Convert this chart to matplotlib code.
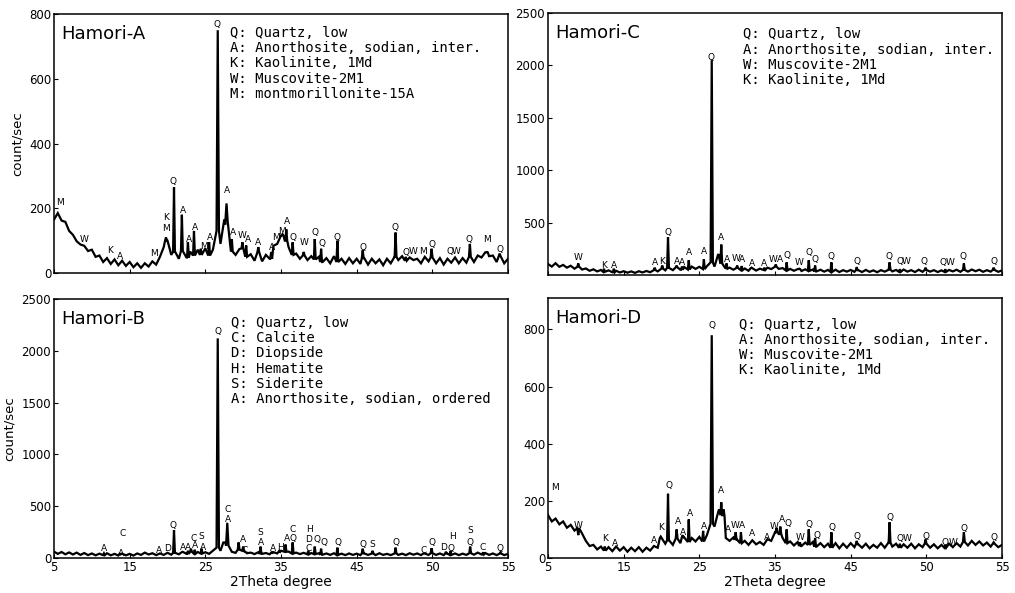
"""XRD patterns of the four Hamori samples (2x2 panel grid)."""
import matplotlib
matplotlib.use("Agg")
import matplotlib.pyplot as plt
import numpy as np

# --- data -------------------------------------------------------------------
# background counts on a 0.5 degree grid, 5 .. 65 degree 2theta
TWO_THETA = np.arange(5.0, 65.01, 0.5)

bg_a = [165, 185, 162, 158, 130, 118, 98, 88, 84, 68,
        72, 50, 54, 34, 46, 28, 42, 24, 38, 22,
        34, 18, 30, 16, 30, 20, 36, 26, 50, 80,
        100, 56, 66, 44, 68, 48, 66, 54, 72, 56,
        76, 54, 72, 130, 90, 165, 150, 66, 56, 74,
        76, 50, 58, 38, 64, 36, 56, 44, 84, 90,
        116, 100, 80, 56, 60, 44, 54, 40, 52, 42,
        50, 34, 46, 30, 52, 34, 44, 28, 46, 30,
        44, 28, 46, 26, 44, 30, 42, 24, 44, 30,
        50, 40, 52, 38, 48, 40, 44, 30, 50, 36,
        48, 30, 46, 26, 44, 32, 48, 30, 46, 32,
        50, 34, 54, 48, 64, 52, 54, 34, 52, 30,
        44]
bg_b = [62, 40, 58, 36, 54, 34, 52, 30, 48, 28,
        44, 26, 42, 28, 46, 26, 40, 24, 42, 26,
        40, 24, 44, 30, 52, 34, 46, 28, 44, 30,
        46, 32, 50, 36, 56, 40, 60, 42, 58, 44,
        56, 40, 70, 100, 70, 150, 120, 60, 50, 80,
        70, 46, 52, 38, 56, 40, 48, 36, 56, 44,
        70, 60, 62, 44, 52, 38, 50, 36, 48, 38,
        46, 32, 44, 30, 46, 30, 42, 28, 44, 30,
        42, 28, 44, 30, 42, 28, 46, 30, 40, 28,
        44, 30, 42, 28, 46, 32, 44, 28, 42, 30,
        46, 30, 44, 28, 42, 30, 44, 28, 42, 30,
        46, 32, 52, 34, 48, 30, 44, 28, 42, 28,
        40]
bg_c = [105, 80, 112, 78, 96, 70, 88, 60, 78, 52,
        62, 40, 54, 34, 48, 30, 44, 26, 40, 24,
        36, 22, 34, 20, 36, 24, 38, 26, 46, 34,
        60, 44, 68, 46, 72, 50, 76, 52, 80, 58,
        78, 56, 84, 120, 80, 170, 110, 60, 70, 50,
        66, 46, 62, 40, 64, 42, 60, 48, 70, 56,
        78, 58, 66, 44, 58, 40, 56, 38, 54, 40,
        52, 34, 50, 32, 48, 30, 50, 28, 46, 32,
        48, 30, 46, 28, 48, 30, 44, 26, 46, 32,
        50, 34, 48, 30, 52, 32, 46, 28, 50, 30,
        48, 32, 46, 28, 44, 30, 48, 34, 50, 30,
        48, 32, 52, 36, 50, 30, 46, 32, 48, 30,
        44]
bg_d = [150, 128, 138, 118, 128, 106, 116, 96, 104, 86,
        60, 42, 46, 30, 40, 26, 38, 24, 40, 26,
        38, 22, 36, 24, 38, 22, 36, 26, 42, 36,
        70, 50, 62, 46, 68, 52, 72, 56, 70, 58,
        74, 58, 80, 120, 110, 160, 150, 70, 60, 72,
        64, 52, 60, 46, 62, 48, 56, 46, 66, 60,
        90, 84, 70, 52, 58, 44, 56, 42, 54, 46,
        56, 40, 52, 38, 50, 36, 52, 34, 50, 36,
        52, 38, 48, 36, 50, 34, 46, 36, 52, 36,
        54, 40, 50, 36, 48, 36, 50, 34, 48, 38,
        50, 36, 48, 34, 46, 36, 50, 38, 52, 40,
        56, 44, 60, 46, 58, 44, 54, 40, 50, 38,
        46]

# reflections: (2theta, peak top counts[, half width])
peaks_a = [(19.8, 110), (20.86, 265), (21.9, 180), (22.7, 95), (23.5, 130),
           (24.4, 75), (25.5, 95), (26.64, 750, 0.16), (27.8, 215, 0.18),
           (28.5, 105), (29.9, 95), (30.4, 85), (32.0, 80), (33.7, 65),
           (35.2, 120), (35.7, 135), (36.54, 95), (38.0, 65), (39.46, 105),
           (40.3, 75), (42.45, 100), (45.8, 70), (50.14, 125), (51.5, 50),
           (54.9, 75), (59.96, 90), (62.2, 65), (63.9, 60)]
peaks_b = [(11.6, 45), (13.8, 35), (20.0, 50), (20.86, 270), (22.0, 60),
           (22.7, 70), (23.1, 90), (23.6, 80), (24.5, 90), (26.64, 2120, 0.16),
           (27.5, 150), (27.9, 340, 0.16), (29.4, 150), (30.0, 110), (32.3, 110),
           (33.9, 50), (34.9, 60), (35.6, 130), (36.54, 150), (38.6, 70),
           (39.46, 110), (40.3, 90), (42.45, 100), (45.8, 90), (47.1, 70),
           (50.14, 100), (53.9, 45), (54.9, 95), (56.8, 60), (57.4, 65),
           (60.0, 110), (61.7, 55), (64.0, 55)]
peaks_c = [(9.0, 110), (12.4, 60), (13.7, 60), (19.1, 70), (20.1, 90),
           (20.86, 360), (22.0, 90), (22.7, 80), (23.6, 140), (25.6, 150),
           (26.64, 2050, 0.15), (27.5, 200), (27.9, 290), (28.6, 110),
           (30.0, 90), (30.6, 85), (31.9, 70), (33.6, 70), (35.1, 100),
           (36.54, 120), (38.2, 60), (39.46, 140), (40.3, 90), (42.45, 120),
           (45.8, 75), (50.14, 120), (51.5, 55), (54.9, 70), (57.5, 55),
           (59.96, 110), (63.9, 70)]
peaks_d = [(9.0, 80), (12.5, 40), (19.9, 75), (20.86, 225), (22.0, 100),
           (22.8, 80), (23.6, 135), (25.5, 95), (26.64, 780, 0.16),
           (27.6, 170), (27.9, 195), (28.2, 170), (29.8, 90), (30.5, 90),
           (35.2, 105), (35.7, 110), (36.54, 100), (38.3, 55), (39.46, 100),
           (40.3, 70), (42.45, 90), (45.8, 60), (50.14, 125), (51.5, 50),
           (54.9, 65), (57.5, 45), (59.96, 90), (63.9, 55)]

# phase letters written over the reflections: (2theta, counts, letter)
marks_a = [(5.8, 219, "M"), (9.0, 102, "W"), (12.4, 71, "K"), (13.7, 50, "A"),
           (18.2, 60, "M"), (19.8, 170, "K"), (19.8, 136, "M"), (20.7, 284, "Q"),
           (22.0, 192, "A"), (22.8, 105, "A"), (23.6, 142, "A"), (24.8, 83, "M"),
           (25.6, 111, "A"), (26.5, 769, "Q"), (27.9, 256, "A"), (28.7, 124, "A"),
           (29.8, 117, "W"), (30.7, 102, "A"), (32.0, 93, "A"), (33.8, 80, "A"),
           (34.3, 111, "M"), (35.1, 127, "M"), (35.8, 158, "A"), (36.6, 111, "Q"),
           (38.0, 93, "W"), (39.5, 124, "Q"), (40.4, 90, "Q"), (42.4, 111, "Q"),
           (45.8, 80, "Q"), (50.0, 142, "Q"), (51.5, 62, "Q"), (52.4, 65, "W"),
           (53.8, 65, "M"), (54.9, 87, "Q"), (57.3, 65, "Q"), (58.2, 65, "W"),
           (59.8, 105, "Q"), (62.2, 102, "M"), (63.9, 74, "Q")]
marks_b = [(11.6, 87, "A"), (13.8, 48, "A"), (14.1, 241, "C"), (18.9, 68, "A"),
           (20.0, 87, "D"), (20.7, 318, "Q"), (22.0, 106, "A"), (22.7, 106, "A"),
           (23.4, 193, "C"), (23.6, 125, "A"), (24.5, 203, "S"), (24.7, 106, "A"),
           (26.7, 2183, "Q"), (27.9, 473, "C"), (28.0, 376, "A"), (30.0, 183, "A"),
           (30.2, 70, "C"), (32.3, 251, "S"), (32.3, 145, "A"), (33.9, 96, "A"),
           (34.9, 106, "H"), (35.8, 193, "A"), (36.6, 193, "Q"), (36.6, 280, "C"),
           (38.7, 280, "H"), (38.7, 183, "D"), (38.6, 87, "C"), (39.7, 174, "Q"),
           (40.7, 145, "Q"), (42.5, 145, "Q"), (45.8, 135, "Q"), (47.1, 135, "S"),
           (50.2, 145, "Q"), (53.9, 77, "C"), (54.9, 154, "Q"), (56.5, 106, "D"),
           (57.5, 96, "Q"), (57.6, 205, "H"), (60.0, 270, "S"), (60.0, 154, "Q"),
           (61.7, 106, "C"), (64.0, 87, "Q")]
marks_c = [(9.0, 162, "W"), (12.4, 95, "K"), (13.7, 86, "A"), (19.1, 115, "A"),
           (20.1, 124, "K"), (20.9, 410, "Q"), (22.0, 124, "A"), (22.7, 115, "A"),
           (23.6, 210, "A"), (25.6, 220, "A"), (26.6, 2080, "Q"), (27.9, 353, "A"),
           (28.6, 143, "A"), (29.8, 153, "W"), (30.7, 143, "A"), (31.9, 105, "A"),
           (33.6, 105, "A"), (34.7, 143, "W"), (35.6, 143, "A"), (36.6, 190, "Q"),
           (38.2, 115, "W"), (39.5, 210, "Q"), (40.3, 143, "Q"), (42.4, 172, "Q"),
           (45.8, 124, "Q"), (50.0, 172, "Q"), (51.5, 124, "Q"), (52.3, 124, "W"),
           (54.7, 124, "Q"), (57.2, 115, "Q"), (58.1, 115, "W"), (59.8, 172, "Q"),
           (63.9, 124, "Q")]
marks_d = [(5.9, 248, "M"), (9.0, 115, "W"), (12.5, 70, "K"), (13.9, 52, "A"),
           (19.0, 63, "A"), (19.9, 108, "K"), (21.0, 255, "Q"), (22.2, 129, "A"),
           (22.8, 91, "A"), (23.8, 157, "A"), (25.6, 112, "A"), (26.7, 813, "Q"),
           (27.9, 237, "A"), (28.8, 101, "A"), (29.7, 115, "W"), (30.6, 115, "A"),
           (31.9, 87, "A"), (33.9, 73, "A"), (34.9, 112, "W"), (35.9, 136, "A"),
           (36.7, 122, "Q"), (38.3, 73, "W"), (39.5, 119, "Q"), (40.5, 80, "Q"),
           (42.5, 108, "Q"), (45.8, 77, "Q"), (50.2, 143, "Q"), (51.5, 70, "Q"),
           (52.4, 70, "W"), (54.9, 77, "Q"), (57.4, 56, "Q"), (58.5, 56, "W"),
           (60.0, 105, "Q"), (63.9, 73, "Q")]

legend_a = ["Q: Quartz, low", "A: Anorthosite, sodian, inter.",
            "K: Kaolinite, 1Md", "W: Muscovite-2M1", "M: montmorillonite-15A"]
legend_b = ["Q: Quartz, low", "C: Calcite", "D: Diopside", "H: Hematite",
            "S: Siderite", "A: Anorthosite, sodian, ordered"]
legend_cd = ["Q: Quartz, low", "A: Anorthosite, sodian, inter.",
             "W: Muscovite-2M1", "K: Kaolinite, 1Md"]

x_ticks = [5, 15, 25, 35, 45, 55, 65]
x_tick_labels = ["5", "15", "25", "35", "45", "50", "55"]   # as printed on the scan


def build_trace(bg, peaks, hw=0.12):
    """Join background samples and peak vertices into one polyline."""
    pk = [(p[0], p[1], p[2] if len(p) > 2 else hw) for p in peaks]
    pts = [(x, y) for x, y in zip(TWO_THETA, bg)
           if all(abs(x - p) > w for p, _, w in pk)]
    for p, top, w in pk:
        base = bg[int(np.argmin(np.abs(TWO_THETA - p)))]
        pts += [(p - w, base), (p, top), (p + w, base)]
    pts.sort()
    xs, ys = zip(*pts)
    return np.array(xs), np.array(ys)


fig = plt.figure(figsize=(10.15, 5.93), dpi=100)
panels = [
    # name, rect, background, peaks, marks, legend, ylim, yticks, legend pos
    ("Hamori-A", [0.0532, 0.5396, 0.4473, 0.4368], bg_a, peaks_a, marks_a,
     legend_a, 800, [0, 200, 400, 600, 800], (0.388, 0.955)),
    ("Hamori-C", [0.5399, 0.5363, 0.4473, 0.4418], bg_c, peaks_c, marks_c,
     legend_cd, 2500, [500, 1000, 1500, 2000, 2500], (0.43, 0.945)),
    ("Hamori-B", [0.0532, 0.0590, 0.4473, 0.4368], bg_b, peaks_b, marks_b,
     legend_b, 2500, [0, 500, 1000, 1500, 2000, 2500], (0.39, 0.935)),
    ("Hamori-D", [0.5399, 0.0590, 0.4473, 0.4384], bg_d, peaks_d, marks_d,
     legend_cd, 910, [0, 200, 400, 600, 800], (0.42, 0.925)),
]

for i, (name, rect, bg, peaks, marks, legend, ytop, yticks, lpos) in enumerate(panels):
    ax = fig.add_axes(rect)
    xs, ys = build_trace(bg, peaks)
    ax.plot(xs, ys, color="black", lw=1.6, solid_joinstyle="miter")
    ax.set_xlim(5, 65)
    ax.set_ylim(0, ytop)
    ax.set_yticks(yticks)
    ax.set_xticks(x_ticks)
    ax.tick_params(direction="in", length=3, width=0.8, labelsize=8.5, pad=2)
    if i >= 2:
        ax.set_xticklabels(x_tick_labels)
        ax.set_xlabel("2Theta degree", fontsize=10, labelpad=1)
    else:
        ax.set_xticklabels([])
    if i % 2 == 0:
        ax.set_ylabel("count/sec", fontsize=9.5, labelpad=4)
    for sp in ax.spines.values():
        sp.set_linewidth(1.1)

    ax.text(0.015, 0.905, name, transform=ax.transAxes, fontsize=13,
            ha="left", va="baseline")
    ax.text(lpos[0], lpos[1], "\n".join(legend), transform=ax.transAxes,
            family="DejaVu Sans Mono", fontsize=10, ha="left", va="top",
            linespacing=1.12)
    for x, y, letter in marks:
        ax.text(x, y, letter, fontsize=6.5, ha="center", va="center")

fig.savefig("out.png", dpi=100)
